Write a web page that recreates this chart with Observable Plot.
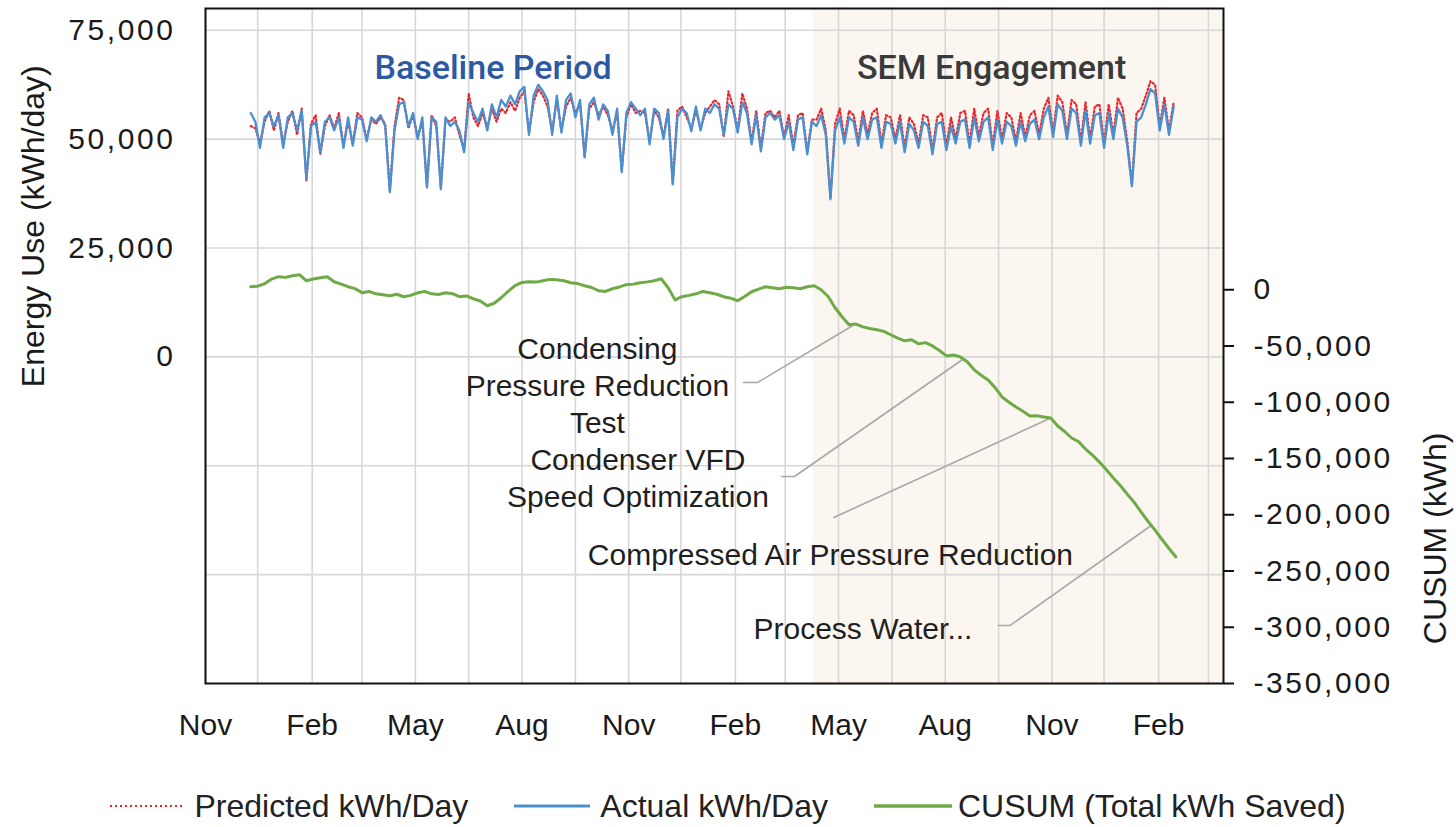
<!DOCTYPE html>
<html><head><meta charset="utf-8">
<script src="https://cdn.jsdelivr.net/npm/d3@7"></script>
<script src="https://cdn.jsdelivr.net/npm/@observablehq/plot@0.6"></script>
<style>
body{margin:0;background:#fff;font-family:"Liberation Sans",Arial,sans-serif;}
#wrap{position:relative;width:1456px;height:827px;overflow:hidden;}
#wrap svg.chart{position:absolute;left:0;top:0;}
#legend{position:absolute;left:0;top:787px;width:1456px;display:flex;justify-content:center;align-items:center;font-size:32px;color:#222;line-height:38px;}
#legend .item{display:flex;align-items:center;}
#legend .item svg{display:block;}
</style></head><body><div id="wrap"></div>
<script>
// ---------------- data ----------------
const seriesStart = "2016-12-10";   // first daily reading shown
const seriesStepDays = 4;           // one reading every 4 days
// Actual kWh/day, in thousands
const actualK = [
 56, 54, 48, 55, 56, 53, 55.5, 48, 55, 56, 52, 56.5, 40.8,
 53, 54, 47, 54, 55, 52, 55, 48, 55, 48.5, 55, 54.5, 49.5, 55, 54, 55.5, 53,
 37.8,
 52, 58, 58.5, 53, 56, 50, 55, 38.9, 55, 54, 38.5, 55, 53, 54,
 52, 47, 58.5, 56, 54, 57, 52, 58, 55, 59, 57.5, 60, 58, 61, 62,
 51, 60, 62.5, 61, 59, 51, 60, 51.5, 59, 60.5, 55, 59,
 45.8,
 58, 59.5, 54.5, 58, 56.5, 51, 57,
 42.4,
 56, 58.5, 57, 55.5, 57, 48.8, 57, 56, 50, 56.5,
 39.6,
 55, 57, 56, 51.8, 57.5, 52, 57, 56, 58, 57, 51, 58, 57, 51.5, 58.5, 56, 48.8, 55.5, 47.2, 55,
 56, 54.5, 55.5, 50, 54, 47.5, 54.5, 55, 46.5, 54, 53, 55.5, 51, 36.2,
 52, 55, 49, 55, 54, 48.5, 55, 50, 54.5, 55, 48, 54, 53.5, 49, 54, 47, 53.5, 52, 48, 54,
 53, 46.5, 53.5, 54, 47.5, 53, 49, 54, 54.5, 48, 55, 49.5, 54, 55, 47.5, 54.5, 49, 54, 53, 48.5,
 54, 49.5, 53.5, 54.5, 50, 55,
 57.5, 50.5, 58, 56.5, 50, 57, 56, 48.5, 56.5, 49, 55.5, 56, 48, 56, 50, 57, 55, 48.5,
 39.2,
 54, 55, 58, 61.5, 60.5, 52, 58, 51, 57.5
];
// Predicted kWh/day, in thousands
const predictedK = [
 53, 52.5, 49, 54, 56.5, 52, 56, 49, 54, 56.5, 51, 57, 40.5,
 53.5, 55.5, 46.5, 53, 55.5, 52.5, 56, 48.5, 54, 49, 56, 55, 50, 54.5, 53.5, 55, 53.5,
 38,
 53, 59.5, 59, 52.5, 55.5, 50.5, 54, 39.2, 55.5, 53, 38.8, 54.5, 54, 55,
 51, 47.5, 60.5, 55, 53, 56, 52.5, 57, 54, 57, 56, 58.5, 56.5, 59.5, 61,
 51.5, 58.5, 61.5, 60, 57.5, 52, 59, 52, 57.5, 59.5, 56, 58,
 46,
 57, 58.5, 55.5, 57.5, 55.5, 52, 56,
 42.8,
 55, 58, 56, 56.5, 56, 49.5, 56.5, 55, 50.5, 57,
 40,
 56.5, 57.5, 55, 52.5, 56.5, 52.5, 56, 57.5, 59, 58, 50.5, 61, 57.5, 52, 60.5, 57, 49.5, 56.5, 48, 56,
 56.5, 55, 56.5, 50.5, 55.5, 48.5, 55.5, 56, 47, 54.5, 54.5, 57, 52, 36.5,
 53.5, 57, 50, 56.5, 55.5, 49.5, 56.5, 51, 56, 57, 49, 55.5, 55, 50, 55.5, 48, 55, 53.5, 49, 55.5,
 55, 47.5, 55, 56, 48.5, 55, 50, 56, 56.5, 49, 57, 50.5, 56, 57, 48.5, 56.5, 50, 56, 55, 49.5,
 56, 50.5, 55.5, 56.5, 51, 57,
 59.5, 51.5, 60, 58.5, 51, 59, 58, 49.5, 58.5, 50, 57.5, 58, 49, 58, 51, 59.5, 57, 49.5,
 39.6,
 56, 57, 60, 63.3, 62.5, 53, 59.5, 52, 58.5
];
const cusumStart = "2016-12-10";
const cusumStepDays = 6;
// CUSUM (total kWh saved), in thousands
const cusumK = [
 2.7, 3.2, 5.3, 9.5, 11.6, 11.0, 12.5, 13.4, 8, 9.5,
 10.7, 11.5, 7.1, 5.0, 2.7, 1.0, -2.7, -1.5, -3.6, -4.5,
 -5.3, -4.0, -6.2, -5.0, -2.7, -1.5, -3.6, -4.2, -2.7, -3.5,
 -6.2, -5.5, -8, -10, -14.2, -12, -7.1, -1.5, 3.6, 6.5,
 7.1, 6.8, 8, 9.2, 8.9, 8.0, 6.2, 5.5, 3.6, 2.0,
 -0.9, -1.5, 0.9, 2.5, 4.5, 5.0, 6.2, 7.0, 8, 9.8,
 1.8, -9, -6.2, -5.0, -3.6, -1.5, -2.7, -4.0, -6.2, -7.5,
 -9.8, -6, -1.8, 0.5, 2.7, 1.8, 0.9, 2.2, 1.8, 0.9,
 2.7, 3.5, 0, -6, -16, -24, -31.2, -30.5, -33, -34.5,
 -35.6, -37, -40, -43, -45.4, -44.5, -48.1, -47, -49.9, -54,
 -58.8, -58, -59.7, -64, -71.2, -76, -80.2, -87, -95.3, -100,
 -104.2, -108, -112.2, -112, -113.1, -114, -121.1, -126, -131.8, -135,
 -141.6, -147, -153.2, -160, -167.4, -174, -181.7, -189, -197.7, -206,
 -213.7, -222, -230, -237.5
];
const xTickDates = ["2016-11-01","2017-02-01","2017-05-01","2017-08-01","2017-11-01","2018-02-01","2018-05-01","2018-08-01","2018-11-01","2019-02-01"];
const xMinorGridDates = ["2016-12-16","2017-03-16","2017-06-16","2017-09-16","2017-12-16","2018-03-16","2018-06-16","2018-09-16","2018-12-16","2019-03-16"];
const leftTicksK = [0, 25, 50, 75];
const leftGridK = [-50, -25, 0, 25, 50, 75];
const rightTicksK = [0, -50, -100, -150, -200, -250, -300, -350];
const seriesNames = ["Predicted kWh/Day", "Actual kWh/Day", "CUSUM (Total kWh Saved)"];
const periodNames = ["Baseline Period", "SEM Engagement"];
const semStartDate = "2018-04-09";
const eventLabels = ["Condensing\nPressure Reduction\nTest", "Condenser VFD\nSpeed Optimization", "Compressed Air Pressure Reduction", "Process Water..."];
const axisTitles = ["Energy Use (kWh/day)", "CUSUM (kWh)"];

// ---------------- layout (positions in data space) ----------------
const xDomain = [new Date("2016-11-01"), new Date("2019-03-29")];
const leftDomain = [-75, 80];
const rightDomain = [-350, 250];
const periodPos = [{date:"2017-07-07", v:66.2, color:"#2d58a3"}, {date:"2018-09-10", v:66.2, color:"#3a3a3a"}];
const eventPos = [
  {date:"2017-10-05", c:-84.2},
  {date:"2017-11-09", c:-166.4},
  {date:"2018-04-24", c:-234.4},
  {date:"2018-05-22", c:-300.2}
];
const leaderPos = [
  [["2018-02-08",-82.5],["2018-02-20",-82.5],["2018-05-13",-32]],
  [["2018-03-13",-166],["2018-03-24",-166],["2018-08-16",-62]],
  [["2018-04-27",-202.4],["2018-10-31",-114]],
  [["2018-09-16",-298.4],["2018-09-26",-298.4],["2019-01-25",-210]]
];
const W = 1456, H = 760;
const margins = {marginTop: 8, marginBottom: 77, marginLeft: 205, marginRight: 233};

// ---------------- build ----------------
const t0 = new Date(seriesStart);
const energy = actualK.map((v, i) => ({date: d3.utcDay.offset(t0, i * seriesStepDays), actual: v, predicted: predictedK[i]}));
const c0 = new Date(cusumStart);
const cusum = cusumK.map((v, i) => ({date: d3.utcDay.offset(c0, i * cusumStepDays), c: v}));
const fmtK = d => (d < 0 ? "-" : "") + d3.format(",")(Math.abs(d * 1000));
const gridDates = xTickDates.concat(xMinorGridDates).map(d => new Date(d));
const FONT = "'Liberation Sans', Arial, sans-serif";
const gridStyle = {stroke: "#d7d7d7", strokeOpacity: 1, strokeWidth: 1.6};

const plot1 = Plot.plot({
  width: W, height: H, ...margins,
  style: {fontFamily: FONT, fontSize: "30px", color: "#1a1a1a", background: "#fff"},
  x: {type: "utc", domain: xDomain},
  y: {domain: leftDomain},
  marks: [
    Plot.rect([{x1: new Date(semStartDate), x2: xDomain[1]}], {x1: "x1", x2: "x2", fill: "#fcf6f0"}),
    Plot.gridX(gridDates, gridStyle),
    Plot.gridY(leftGridK, gridStyle),
    Plot.axisY(leftTicksK, {tickSize: 0, tickPadding: 30, tickFormat: fmtK, label: null}),
    Plot.axisX(xTickDates.map(d => new Date(d)), {tickSize: 0, tickPadding: 30, tickFormat: d3.utcFormat("%b"), label: null}),
    Plot.lineY(energy, {x: "date", y: "predicted", stroke: "#e8262b", strokeWidth: 2.2, strokeDasharray: "1.5,2.5"}),
    Plot.lineY(energy, {x: "date", y: "actual", stroke: "#4a8fd0", strokeWidth: 2.3}),
    Plot.text(periodNames.map((t, i) => ({t, date: new Date(periodPos[i].date), v: periodPos[i].v, color: periodPos[i].color})),
      {x: "date", y: "v", text: "t", fill: "color", fontSize: 34, fontFamily: "Roboto, 'Liberation Sans', sans-serif", fontWeight: 500}),
    Plot.text([{t: axisTitles[0], v: 30}], {text: "t", y: "v", frameAnchor: "left", textAnchor: "middle", dx: -172, rotate: -90, fontSize: 32, fill: "#1a1a1a"}),
    Plot.frame({stroke: "#111", strokeWidth: 2})
  ]
});

const leaders = leaderPos.flatMap((pts, k) => pts.map(([d, c]) => ({id: k, date: new Date(d), c})));
const plot2 = Plot.plot({
  width: W, height: H, ...margins,
  style: {fontFamily: FONT, fontSize: "30px", color: "#1a1a1a", background: "transparent"},
  x: {type: "utc", domain: xDomain, axis: null},
  y: {domain: rightDomain, axis: null},
  marks: [
    Plot.axisY(rightTicksK, {anchor: "right", tickSize: 10, tickPadding: 20, tickFormat: fmtK, label: null, stroke: "#111", strokeWidth: 2}),
    Plot.line(leaders, {x: "date", y: "c", z: "id", stroke: "#a8a8a8", strokeWidth: 1.6}),
    Plot.lineY(cusum, {x: "date", y: "c", stroke: "#6eab46", strokeWidth: 3}),
    Plot.text(eventLabels.map((t, i) => ({t, date: new Date(eventPos[i].date), c: eventPos[i].c})),
      {x: "date", y: "c", text: "t", fontSize: 30, lineHeight: 1.23, fill: "#1f1f1f"}),
    Plot.text([{t: axisTitles[1], v: -221}], {text: "t", y: "v", frameAnchor: "right", textAnchor: "middle", dx: 212, rotate: -90, fontSize: 32, fill: "#1a1a1a"})
  ]
});

for (const p of [plot1, plot2]) {
  p.classList.add("chart");
  d3.select(p).selectAll('g[aria-label="y-axis tick label"] text').attr("letter-spacing", "2.6px");
}
const wrap = document.getElementById("wrap");
wrap.appendChild(plot1);
wrap.appendChild(plot2);

// ---------------- legend ----------------
const legend = document.createElement("div");
legend.id = "legend";
const sw = [
  {w: 72, gap: 12, stroke: "#e8262b", dash: "2,3", sw: 2},
  {w: 76, gap: 10, stroke: "#4a8fd0", dash: null, sw: 3},
  {w: 78, gap: 6, stroke: "#6eab46", dash: null, sw: 3.5}
];
seriesNames.forEach((name, i) => {
  const item = document.createElement("div");
  item.className = "item";
  if (i > 0) item.style.marginLeft = "46px";
  const s = sw[i];
  item.innerHTML = `<svg width="${s.w}" height="10" style="margin-right:${s.gap}px"><line x1="0" x2="${s.w}" y1="5" y2="5" stroke="${s.stroke}" stroke-width="${s.sw}" ${s.dash ? `stroke-dasharray="${s.dash}"` : ""}/></svg><span>${name}</span>`;
  legend.appendChild(item);
});
wrap.appendChild(legend);
</script></body></html>
